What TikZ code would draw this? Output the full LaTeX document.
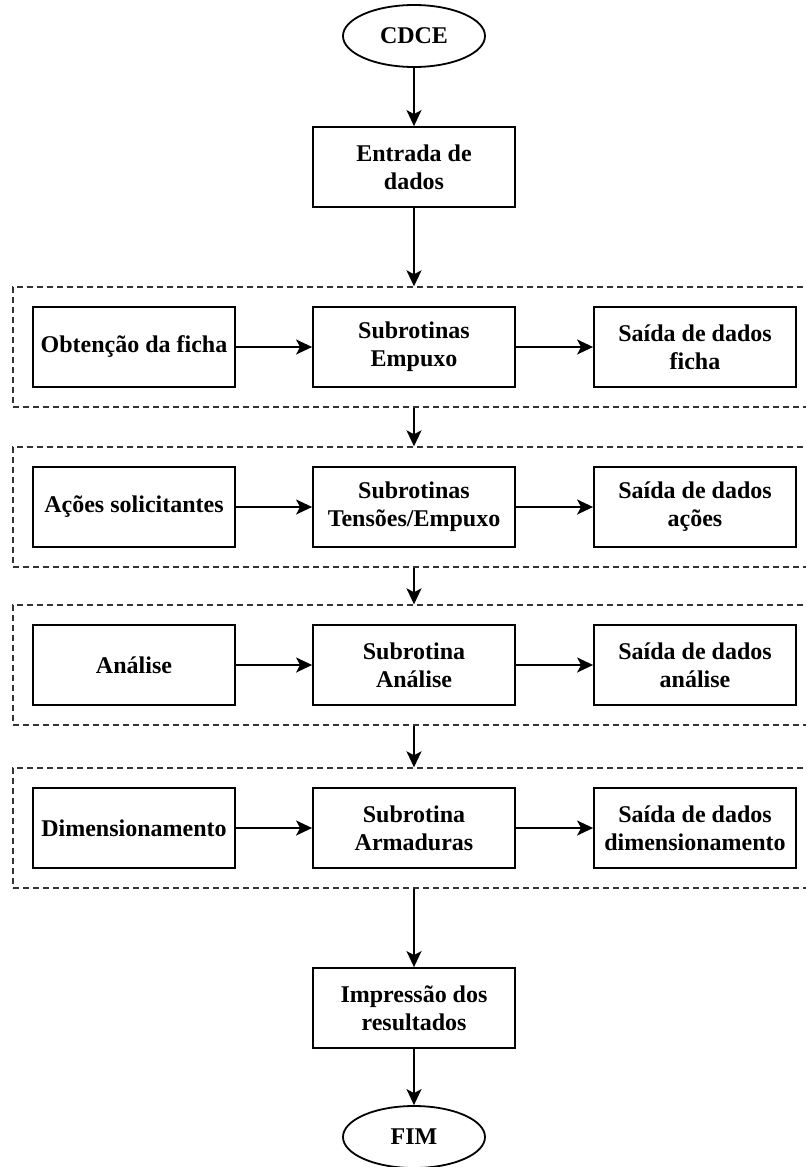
\documentclass[tikz,border=0pt]{standalone}
\usepackage{fontspec}
\setmainfont{Liberation Serif}
\usetikzlibrary{arrows.meta,shapes.geometric}

\begin{document}
\begin{tikzpicture}[x=0.5pt, y=-0.5pt, >={Stealth[length=8pt,width=7.5pt,inset=2pt]},
  caixa/.style={draw, line width=0.9pt, minimum width=101pt, minimum height=40pt,
    inner sep=2pt, align=center, font=\fontsize{12}{14}\selectfont\bfseries},
  terminal/.style={draw, ellipse, line width=0.9pt, minimum width=71pt, minimum height=31pt,
    inner sep=0pt, font=\fontsize{12}{14}\selectfont\bfseries},
  grupo/.style={draw=black!80, line width=0.7pt, dash pattern=on 3pt off 2pt,
    minimum width=420pt, minimum height=60pt, inner sep=0pt},
  seta/.style={->, line width=0.9pt}]
\useasboundingbox (0,0) rectangle (806,1167);
\clip (0,0) rectangle (806,1167);

% inicio
\node[terminal] (cdce) at (414,36) {CDCE};
\node[caixa] (entrada) at (414,167) {Entrada de\\dados};

% grupos tracejados
\node[grupo] (g1) at (433,347) {};
\node[grupo] (g2) at (433,507) {};
\node[grupo] (g3) at (433,665) {};
\node[grupo] (g4) at (433,828) {};

% ficha
\node[caixa] (obt) at (134,347) {Obtenção da ficha};
\node[caixa] (sub1) at (414,347) {Subrotinas\\Empuxo};
\node[caixa] (said1) at (695,347) {Saída de dados\\ficha};

% acoes
\node[caixa] (acoes) at (134,507) {Ações solicitantes};
\node[caixa] (sub2) at (414,507) {Subrotinas\\Tensões/Empuxo};
\node[caixa] (said2) at (695,507) {Saída de dados\\ações};

% analise
\node[caixa] (anal) at (134,665) {Análise};
\node[caixa] (sub3) at (414,665) {Subrotina\\Análise};
\node[caixa] (said3) at (695,665) {Saída de dados\\análise};

% dimensionamento
\node[caixa] (dimen) at (134,828) {Dimensionamento};
\node[caixa] (sub4) at (414,828) {Subrotina\\Armaduras};
\node[caixa] (said4) at (695,828) {Saída de dados\\dimensionamento};

% fim
\node[caixa] (impr) at (414,1008) {Impressão dos\\resultados};
\node[terminal] (fim) at (414,1137) {FIM};

\draw[seta] (cdce) -- (entrada);
\draw[seta] (entrada) -- (entrada |- g1.north);
\draw[seta] (obt) -- (sub1);
\draw[seta] (sub1) -- (said1);
\draw[seta] (sub1 |- g1.south) -- (sub2 |- g2.north);
\draw[seta] (acoes) -- (sub2);
\draw[seta] (sub2) -- (said2);
\draw[seta] (sub2 |- g2.south) -- (sub3 |- g3.north);
\draw[seta] (anal) -- (sub3);
\draw[seta] (sub3) -- (said3);
\draw[seta] (sub3 |- g3.south) -- (sub4 |- g4.north);
\draw[seta] (dimen) -- (sub4);
\draw[seta] (sub4) -- (said4);
\draw[seta] (sub4 |- g4.south) -- (impr);
\draw[seta] (impr) -- (fim);
\end{tikzpicture}
\end{document}
